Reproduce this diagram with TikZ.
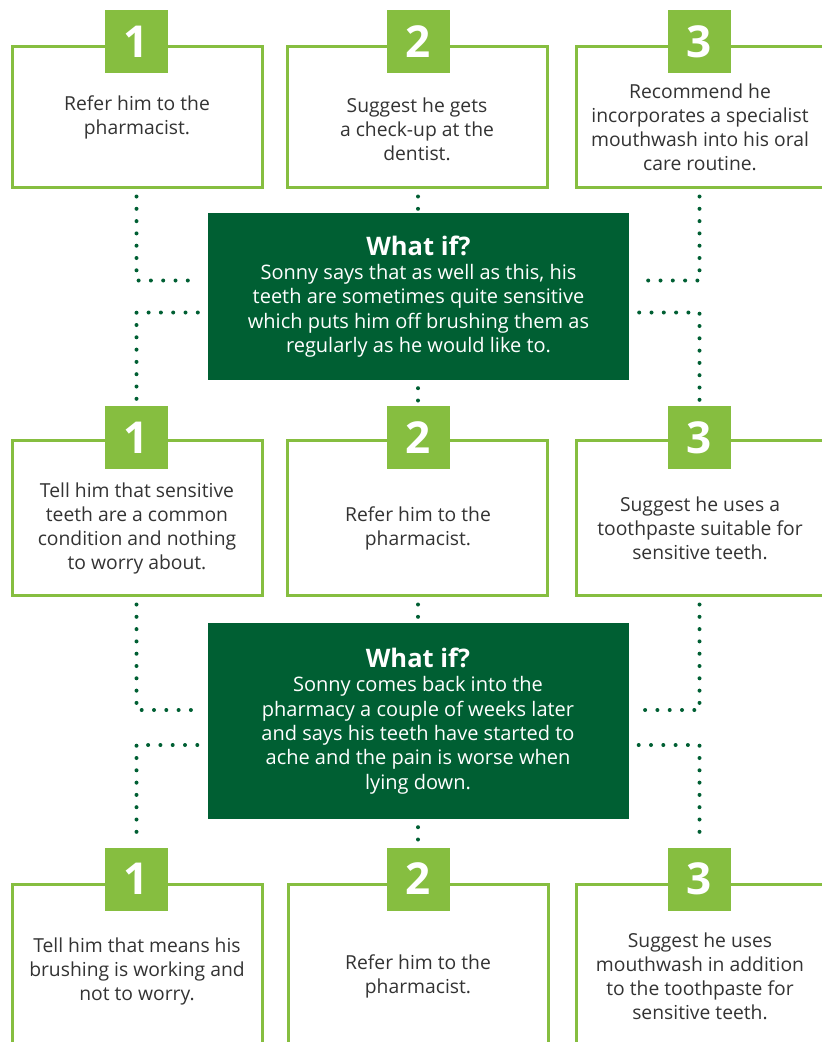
\documentclass[tikz,border=0pt]{standalone}
\usepackage{fontspec}
\setmainfont{Open Sans}
\usetikzlibrary{calc}
\definecolor{leaf}{HTML}{86BE40}
\definecolor{forest}{HTML}{005F33}
\definecolor{ink}{HTML}{333333}
\tikzstyle{option} = [rectangle, draw=leaf, line width=3pt, fill=white, inner sep=0pt]
\tikzstyle{badge} = [rectangle, fill=leaf, text=white, minimum size=63pt, inner sep=0pt,
    font=\bfseries\fontsize{44}{44}\selectfont]
\tikzstyle{answer} = [align=center, text=ink, inner sep=0pt, font=\fontsize{19.3}{24}\selectfont]
\tikzstyle{whatif} = [rectangle, fill=forest, text=white, align=center, inner sep=0pt,
    minimum width=421pt, font=\fontsize{20}{24.3}\selectfont]
\tikzstyle{trail} = [draw=forest, line width=4pt, line cap=round,
    dash pattern=on 0pt off 12.3pt, shorten <=8pt, shorten >=4pt]
\newcommand{\whathead}{{\bfseries\fontsize{25.5}{25}\selectfont What if?}}

\begin{document}
\begin{tikzpicture}[x=1pt, y=-1pt]
  \useasboundingbox (0,0) rectangle (822,1042);
   % Place nodes
    \node [option, minimum width=250pt, minimum height=141pt] (r1a) at (137,116.5) {};
    \node [option, minimum width=260pt, minimum height=141pt] (r1b) at (417,116.5) {};
    \node [option, minimum width=260pt, minimum height=141pt] (r1c) at (706,116.5) {};
    \node [badge] (n1a) at (136.5,41.5) {1};
    \node [badge] (n1b) at (418,41.5) {2};
    \node [badge] (n1c) at (699.5,41.5) {3};
    \node [answer] (t1a) at (137,117) {Refer him to the\\pharmacist.};
    \node [answer] (t1b) at (417,129) {Suggest he gets\\a check-up at the\\dentist.};
    \node [answer] (t1c) at (700,127.5) {Recommend he\\incorporates a specialist\\mouthwash into his oral\\care routine.};

    \node [whatif, minimum height=167pt] (w1) at (418.5,296.5) {\whathead\\Sonny says that as well as this, his\\teeth are sometimes quite sensitive\\which puts him off brushing them as\\regularly as he would like to.};

    \node [option, minimum width=250pt, minimum height=155pt] (r2a) at (137,517.5) {};
    \node [option, minimum width=260pt, minimum height=155pt] (r2b) at (417,517.5) {};
    \node [option, minimum width=260pt, minimum height=155pt] (r2c) at (706,517.5) {};
    \node [badge] (n2a) at (136.5,437.5) {1};
    \node [badge] (n2b) at (418,437.5) {2};
    \node [badge] (n2c) at (699.5,437.5) {3};
    \node [answer] (t2a) at (137,528) {Tell him that sensitive\\teeth are a common\\condition and nothing\\to worry about.};
    \node [answer] (t2b) at (418,528) {Refer him to the\\pharmacist.};
    \node [answer] (t2c) at (700,528) {Suggest he uses a\\toothpaste suitable for\\sensitive teeth.};

    \node [whatif, minimum height=196pt] (w2) at (418,721) {\whathead\\Sonny comes back into the\\pharmacy a couple of weeks later\\and says his teeth have started to\\ache and the pain is worse when\\lying down.};

    \node [option, minimum width=250pt, minimum height=176pt] (r3a) at (137,972) {};
    \node [option, minimum width=260pt, minimum height=176pt] (r3b) at (418,972) {};
    \node [option, minimum width=260pt, minimum height=176pt] (r3c) at (706,972) {};
    \node [badge] (n3a) at (136.5,879) {1};
    \node [badge] (n3b) at (418,879) {2};
    \node [badge] (n3c) at (699.5,879) {3};
    \node [answer] (t3a) at (137,971) {Tell him that means his\\brushing is working and\\not to worry.};
    \node [answer] (t3b) at (418,976) {Refer him to the\\pharmacist.};
    \node [answer] (t3c) at (700,976) {Suggest he uses\\mouthwash in addition\\to the toothpaste for\\sensitive teeth.};
   % Draw edges
    \path [trail, shorten >=10pt] (n1a |- r1a.south) |- ([yshift=16pt]w1.west);
    \path [trail, shorten <=10pt] ([yshift=-16pt]w1.west) -| (n2a.north);
    \path [trail, shorten >=1pt] (n1b |- r1b.south) -- (n1b |- w1.north);
    \path [trail] (n2b |- w1.south) -- (n2b.north);
    \path [trail, shorten >=10pt] (n1c |- r1c.south) |- ([yshift=16pt]w1.east);
    \path [trail, shorten <=10pt] ([yshift=-16pt]w1.east) -| (n2c.north);

    \path [trail, shorten >=10pt] (n2a |- r2a.south) |- ([yshift=11pt]w2.west);
    \path [trail, shorten <=10pt] ([yshift=-24pt]w2.west) -| (n3a.north);
    \path [trail, shorten >=1pt] (n2b |- r2b.south) -- (n2b |- w2.north);
    \path [trail] (n3b |- w2.south) -- (n3b.north);
    \path [trail, shorten >=10pt] (n2c |- r2c.south) |- ([yshift=11pt]w2.east);
    \path [trail, shorten <=10pt] ([yshift=-24pt]w2.east) -| (n3c.north);
  \end{tikzpicture}
\end{document}
